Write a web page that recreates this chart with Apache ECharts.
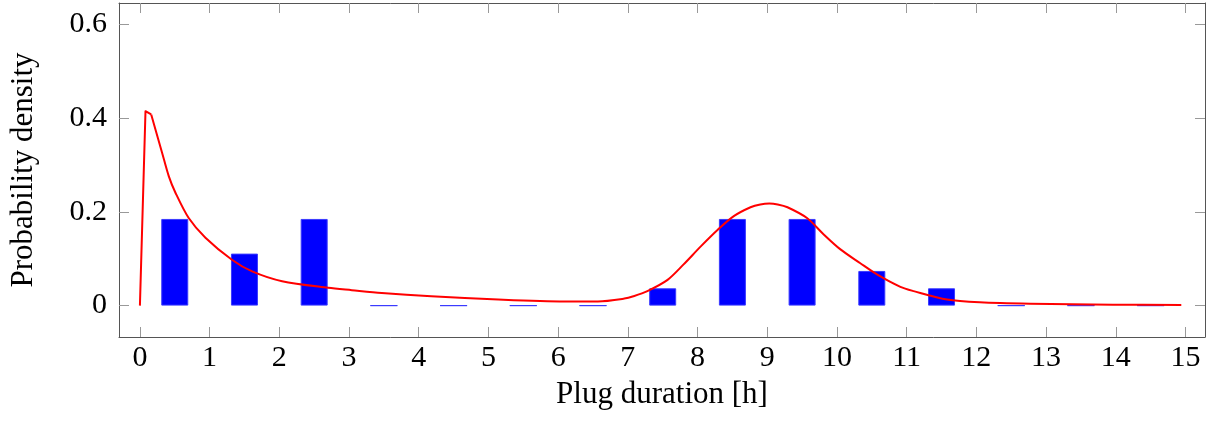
<!DOCTYPE html>
<html>
<head>
<meta charset="utf-8">
<script src="https://cdn.jsdelivr.net/npm/echarts@6/dist/echarts.min.js"></script>
<style>
html,body{margin:0;padding:0;background:#fff;}
#c{width:1217px;height:421px;}
</style>
</head>
<body>
<div id="c"></div>
<script>
// Histogram bins (centers, hours) and densities
const binCenters = [0.5,1.5,2.5,3.5,4.5,5.5,6.5,7.5,8.5,9.5,10.5,11.5,12.5,13.5,14.5];
const binDensity = [0.185,0.111,0.185,0,0,0,0,0.037,0.185,0.185,0.074,0.037,0,0,0];

// Fitted density curve
const curveX = [0,0.08,0.162,0.223,0.319,0.415,0.51,0.70,0.94,1.32,1.61,2.04,2.70,3.04,3.47,4.18,5.14,6.09,6.57,6.95,7.08,7.28,7.57,7.80,8.05,8.29,8.52,8.76,8.9,9.03,9.15,9.29,9.57,9.81,10.05,10.33,10.58,10.91,11.10,11.58,12.05,12.77,13.96,14.94];
const curveY = [0,0.415,0.408,0.376,0.326,0.276,0.241,0.187,0.145,0.098,0.073,0.052,0.038,0.033,0.027,0.020,0.013,0.009,0.009,0.015,0.020,0.031,0.055,0.088,0.127,0.162,0.191,0.210,0.216,0.218,0.216,0.210,0.187,0.152,0.120,0.091,0.066,0.040,0.031,0.013,0.007,0.004,0.002,0.0015];

const xTicks = [0,1,2,3,4,5,6,7,8,9,10,11,12,13,14,15];
const yTicks = [0,0.2,0.4,0.6];

const xMin = -0.3, xMax = 15.28, yMin = -0.067, yMax = 0.646;
const serif = 'Liberation Serif';
const frame = '#555';
const tickCol = '#999';

const chart = echarts.init(document.getElementById('c'), null, {renderer:'canvas'});

function xAxisCfg(pos, showLabel){
  return {
    type:'value', position:pos, min:xMin, max:xMax,
    axisLine:{show:true, onZero:false, lineStyle:{color:frame, width:1}},
    axisTick:{show:true, inside:true, length:10, customValues:xTicks, lineStyle:{color:tickCol, width:1}},
    axisLabel:{show:showLabel, customValues:xTicks, fontFamily:serif, fontSize:30, color:'#000', margin:6},
    splitLine:{show:false},
    name: showLabel ? 'Plug duration [h]' : '',
    nameLocation:'middle', nameGap:42,
    nameTextStyle:{fontFamily:serif, fontSize:31, color:'#000'}
  };
}
function yAxisCfg(pos, showLabel){
  return {
    type:'value', position:pos, min:yMin, max:yMax,
    axisLine:{show:true, onZero:false, lineStyle:{color:frame, width:1}},
    axisTick:{show:true, inside:true, length:10, customValues:yTicks, lineStyle:{color:tickCol, width:1}},
    axisLabel:{show:showLabel, customValues:yTicks, fontFamily:serif, fontSize:30, color:'#000', margin:12,
      formatter:(v)=> (Math.abs(v)<1e-9 ? '0' : String(Math.round(v*10)/10))},
    splitLine:{show:false},
    name: showLabel ? 'Probability density' : '',
    nameLocation:'middle', nameGap:80, nameRotate:90,
    nameTextStyle:{fontFamily:serif, fontSize:31, color:'#000'}
  };
}

const curvePts = curveX.map((x,i)=>[x, curveY[i]]);
const headPts = curvePts.slice(0, 3);   // sharp rise and corner at the start
const tailPts = curvePts.slice(2);      // smooth remainder

const lineBase = {
  type:'line', xAxisIndex:0, yAxisIndex:0,
  showSymbol:false,
  lineStyle:{color:'#ff0000', width:2, join:'round'},
  silent:true, z:5
};

chart.setOption({
  animation:false,
  backgroundColor:'#fff',
  grid:{left:117, right:12, top:3, bottom:84, containLabel:false},
  xAxis:[xAxisCfg('bottom', true), xAxisCfg('top', false)],
  yAxis:[yAxisCfg('left', true), yAxisCfg('right', false)],
  series:[
    {
      type:'bar', xAxisIndex:0, yAxisIndex:0,
      barWidth:27,
      data: binCenters.map((c,i)=>[c, binDensity[i]]),
      itemStyle:{color:'#0000ff', borderColor:'#3a3aff', borderWidth:1, borderJoin:'miter', borderRadius:0},
      silent:true
    },
    Object.assign({}, lineBase, {data: headPts, smooth:false}),
    Object.assign({}, lineBase, {data: tailPts, smooth:0.3})
  ]
});
</script>
</body>
</html>
